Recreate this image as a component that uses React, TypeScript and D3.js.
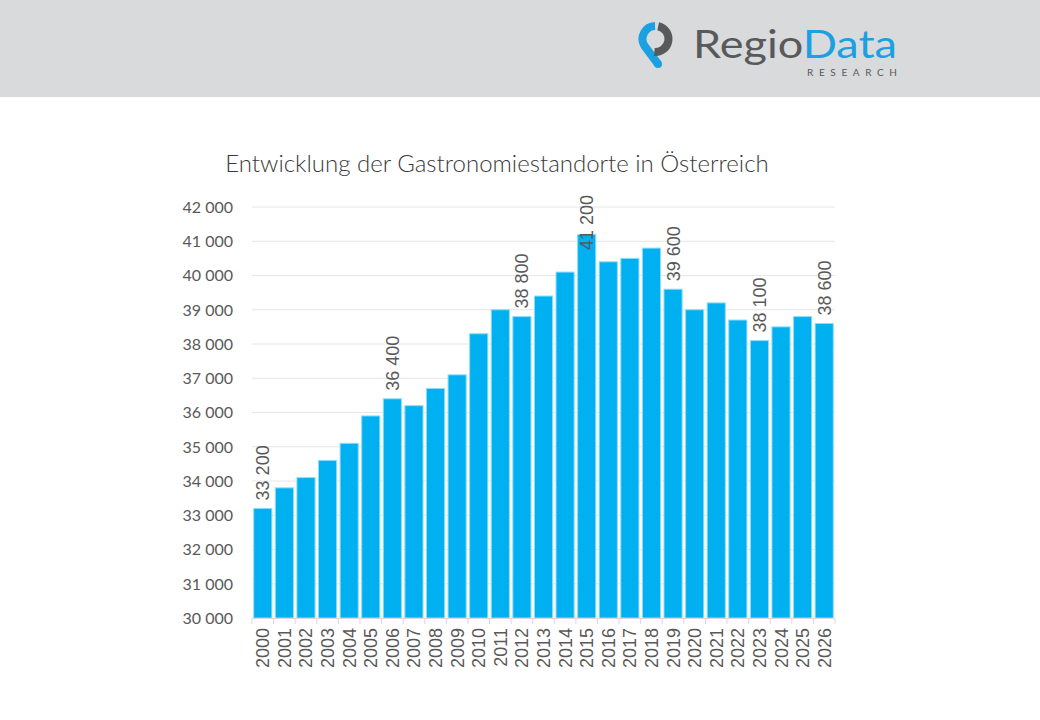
import React, { useEffect, useRef } from 'react';
import * as d3 from 'd3';

const YEARS = [
  '2000', '2001', '2002', '2003', '2004', '2005', '2006', '2007', '2008', '2009',
  '2010', '2011', '2012', '2013', '2014', '2015', '2016', '2017', '2018', '2019',
  '2020', '2021', '2022', '2023', '2024', '2025', '2026',
];
const STANDORTE = [
  33200, 33800, 34100, 34600, 35100, 35900, 36400, 36200, 36700, 37100,
  38300, 39000, 38800, 39400, 40100, 41200, 40400, 40500, 40800, 39600,
  39000, 39200, 38700, 38100, 38500, 38800, 38600,
];
const LABELLED_YEARS = ['2000', '2006', '2012', '2015', '2019', '2023', '2026'];
const Y_TICKS = [30000, 31000, 32000, 33000, 34000, 35000, 36000, 37000, 38000, 39000, 40000, 41000, 42000];
const TITLE = 'Entwicklung der Gastronomiestandorte in Österreich';

const WIDTH = 1040;
const HEIGHT = 720;
const PLOT = { left: 252, right: 835, top: 207, bottom: 618 };

const fmt = (v: number) => d3.format(',')(v).replace(/,/g, ' ');

const App: React.FC = () => {
  const svgRef = useRef<SVGSVGElement>(null);

  useEffect(() => {
    if (!svgRef.current) return;
    const svg = d3.select(svgRef.current);
    svg.selectAll('*').remove();

    // --- header band with logo ---
    svg.append('rect').attr('x', 0).attr('y', 0).attr('width', WIDTH).attr('height', 97).attr('fill', '#d9dadc');

    const logo = svg.append('g');
    const cx = 655.5, cy = 39, r = 13;
    const pt = (deg: number) => [cx + r * Math.cos((deg * Math.PI) / 180), cy + r * Math.sin((deg * Math.PI) / 180)];
    const [bx0, by0] = pt(-92);
    const [bx1, by1] = pt(150);
    logo.append('path')
      .attr('d', `M${bx0},${by0} A${r},${r} 0 0 0 ${bx1},${by1} L658,64`)
      .attr('fill', 'none').attr('stroke', '#1ba1e2').attr('stroke-width', 8)
      .attr('stroke-linejoin', 'round');
    logo.append('circle').attr('cx', 658).attr('cy', 64).attr('r', 4).attr('fill', '#1ba1e2');
    const [gx0, gy0] = pt(-78);
    const [gx1, gy1] = pt(95);
    logo.append('path')
      .attr('d', `M${gx0},${gy0} A${r},${r} 0 0 1 ${gx1},${gy1}`)
      .attr('fill', 'none').attr('stroke', '#58595b').attr('stroke-width', 8);

    const brand = logo.append('text')
      .attr('x', 693).attr('y', 58)
      .attr('font-family', 'Lato, "Open Sans", sans-serif')
      .attr('font-size', 38)
      .attr('textLength', 204)
      .attr('lengthAdjust', 'spacingAndGlyphs');
    brand.append('tspan').attr('fill', '#58595b').text('Regio');
    brand.append('tspan').attr('fill', '#1ba1e2').text('Data');
    logo.append('text')
      .attr('x', 807).attr('y', 75.5)
      .attr('font-family', 'Lato, "Open Sans", sans-serif')
      .attr('font-size', 10)
      .attr('fill', '#58595b')
      .attr('textLength', 90)
      .attr('lengthAdjust', 'spacing')
      .text('RESEARCH');

    // --- title ---
    svg.append('text')
      .attr('x', 497).attr('y', 172)
      .attr('text-anchor', 'middle')
      .attr('font-family', 'Lato, sans-serif')
      .attr('font-weight', 300)
      .attr('font-size', 24)
      .attr('fill', '#3a3a3a')
      .text(TITLE);

    // --- scales ---
    const x = d3.scaleBand<string>().domain(YEARS).range([PLOT.left, PLOT.right]).paddingInner(0.16).paddingOuter(0.08);
    const y = d3.scaleLinear().domain([30000, 42000]).range([PLOT.bottom, PLOT.top]);

    // gridlines
    svg.append('g').selectAll('line').data(Y_TICKS.slice(1)).join('line')
      .attr('x1', PLOT.left).attr('x2', PLOT.right)
      .attr('y1', d => y(d)).attr('y2', d => y(d))
      .attr('stroke', '#e6e6e6').attr('stroke-width', 1);

    // y tick labels
    svg.append('g').selectAll('text').data(Y_TICKS).join('text')
      .attr('x', 233).attr('y', d => y(d))
      .attr('dy', '0.36em')
      .attr('text-anchor', 'end')
      .attr('font-family', 'Lato, sans-serif')
      .attr('font-size', 16)
      .attr('fill', '#595959')
      .text(d => fmt(d));

    // bars
    svg.append('g').selectAll('rect').data(YEARS).join('rect')
      .attr('x', d => x(d)!)
      .attr('width', x.bandwidth())
      .attr('y', (d, i) => y(STANDORTE[i]))
      .attr('height', (d, i) => PLOT.bottom - y(STANDORTE[i]))
      .attr('fill', '#00b0f0')
      .attr('stroke', '#8fdcf8')
      .attr('stroke-width', 1);

    // x axis line + ticks
    svg.append('line')
      .attr('x1', PLOT.left).attr('x2', PLOT.right)
      .attr('y1', PLOT.bottom + 0.5).attr('y2', PLOT.bottom + 0.5)
      .attr('stroke', '#d9d9d9');
    const step = x.step();
    const edges = YEARS.map((d, i) => PLOT.left + i * step).concat([PLOT.right]);
    svg.append('g').selectAll('line').data(edges).join('line')
      .attr('x1', d => d).attr('x2', d => d)
      .attr('y1', PLOT.bottom).attr('y2', PLOT.bottom + 6)
      .attr('stroke', '#d9d9d9');

    // year labels
    svg.append('g').selectAll('text').data(YEARS).join('text')
      .attr('transform', d => `translate(${x(d)! + x.bandwidth() / 2},${PLOT.bottom + 10}) rotate(-90)`)
      .attr('dy', '0.36em')
      .attr('text-anchor', 'end')
      .attr('font-family', '"Liberation Sans", Arial, sans-serif')
      .attr('font-size', 18)
      .attr('fill', '#595959')
      .text(d => d);

    // data labels
    const labelled = YEARS.map((d, i) => ({ year: d, v: STANDORTE[i] })).filter(d => LABELLED_YEARS.includes(d.year));
    svg.append('g').selectAll('text').data(labelled).join('text')
      .attr('transform', d => `translate(${x(d.year)! + x.bandwidth() / 2},${Math.max(y(d.v) - 8, 250)}) rotate(-90)`)
      .attr('dy', '0.36em')
      .attr('text-anchor', 'start')
      .attr('font-family', '"Liberation Sans", Arial, sans-serif')
      .attr('font-size', 18)
      .attr('fill', '#595959')
      .text(d => fmt(d.v));
  }, []);

  return (
    <div style={{ position: 'absolute', left: 0, top: 0, width: WIDTH, height: HEIGHT, background: '#fff' }}>
      <svg ref={svgRef} width={WIDTH} height={HEIGHT} viewBox={`0 0 ${WIDTH} ${HEIGHT}`} style={{ display: 'block' }} />
    </div>
  );
};

export default App;
